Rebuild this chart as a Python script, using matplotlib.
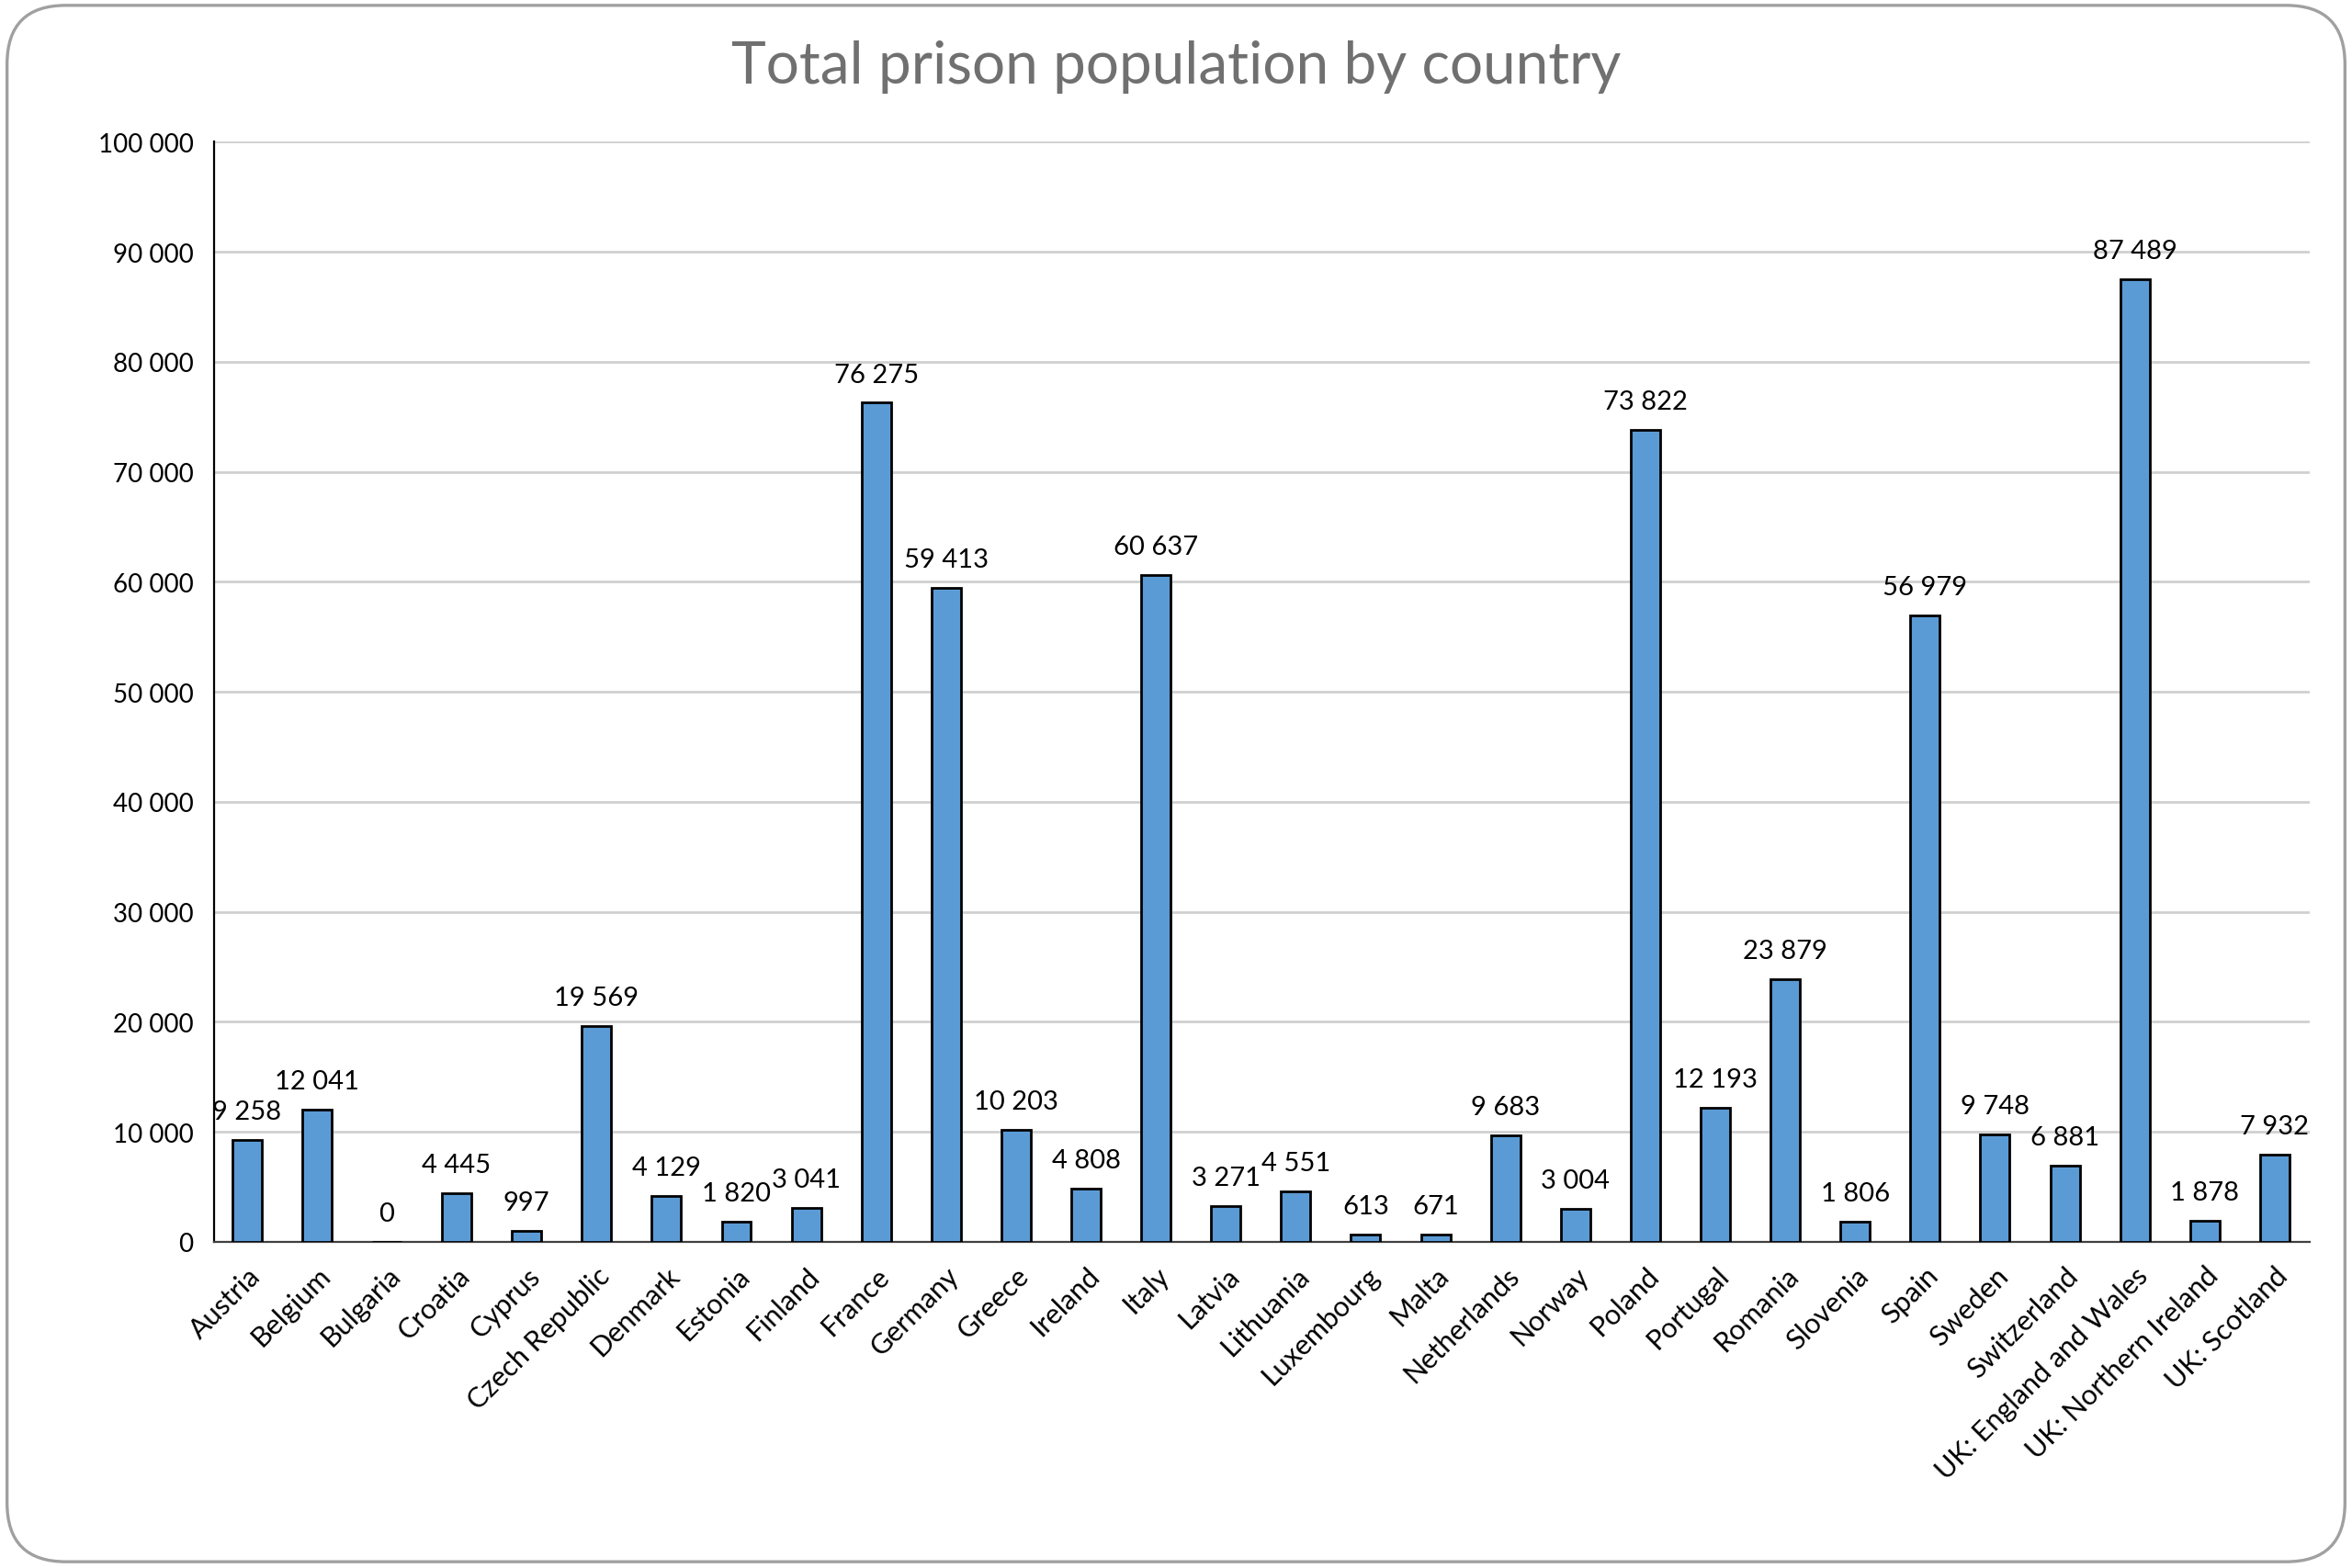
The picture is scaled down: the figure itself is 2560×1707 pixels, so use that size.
import matplotlib.pyplot as plt
from matplotlib.patches import FancyBboxPatch

countries = ['Austria', 'Belgium', 'Bulgaria', 'Croatia', 'Cyprus', 'Czech Republic',
             'Denmark', 'Estonia', 'Finland', 'France', 'Germany', 'Greece', 'Ireland',
             'Italy', 'Latvia', 'Lithuania', 'Luxembourg', 'Malta', 'Netherlands',
             'Norway', 'Poland', 'Portugal', 'Romania', 'Slovenia', 'Spain', 'Sweden',
             'Switzerland', 'UK: England and Wales', 'UK: Northern Ireland', 'UK: Scotland']
population = [9258, 12041, 0, 4445, 997, 19569, 4129, 1820, 3041, 76275, 59413, 10203,
              4808, 60637, 3271, 4551, 613, 671, 9683, 3004, 73822, 12193, 23879, 1806,
              56979, 9748, 6881, 87489, 1878, 7932]
yticks = list(range(0, 100001, 10000))


def fmt(v):
    return '{:,}'.format(v).replace(',', ' ')


plt.rcParams['font.family'] = ['Lato', 'DejaVu Sans']

fig = plt.figure(figsize=(12.8, 8.54), dpi=200)
ax = fig.add_axes([0.091, 0.208, 0.891, 0.701])

x = list(range(len(countries)))
ax.bar(x, population, width=0.42, color='#5B9BD5', edgecolor='black', linewidth=1.0, zorder=3)

for xi, v in zip(x, population):
    ax.text(xi, v + 1500, fmt(v), ha='center', va='bottom', fontsize=10.5)

ax.set_xlim(-0.47, 29.5)
ax.set_ylim(0, 100000)
ax.set_yticks(yticks)
ax.set_yticklabels([fmt(t) for t in yticks], fontsize=10)
ax.set_xticks(x)
ax.set_xticklabels(countries, rotation=45, ha='right', rotation_mode='anchor', fontsize=11)
ax.tick_params(axis='both', length=0, pad=8)
ax.grid(axis='y', color='#D0D0D0', linewidth=1.0, zorder=0)
for s in ['top', 'right']:
    ax.spines[s].set_visible(False)
ax.spines['left'].set_color('black')
ax.spines['bottom'].set_color('#404040')

fig.text(0.5, 0.957, 'Total prison population by country', ha='center', va='center',
         fontsize=23, color='#707070')

border = FancyBboxPatch((0.003, 0.004), 0.994, 0.992, boxstyle='round,pad=0,rounding_size=0.025',
                        transform=fig.transFigure, facecolor='none', edgecolor='#A0A0A0',
                        linewidth=1.2, mutation_aspect=1.5)
fig.patches.append(border)

fig.savefig('out.png')
